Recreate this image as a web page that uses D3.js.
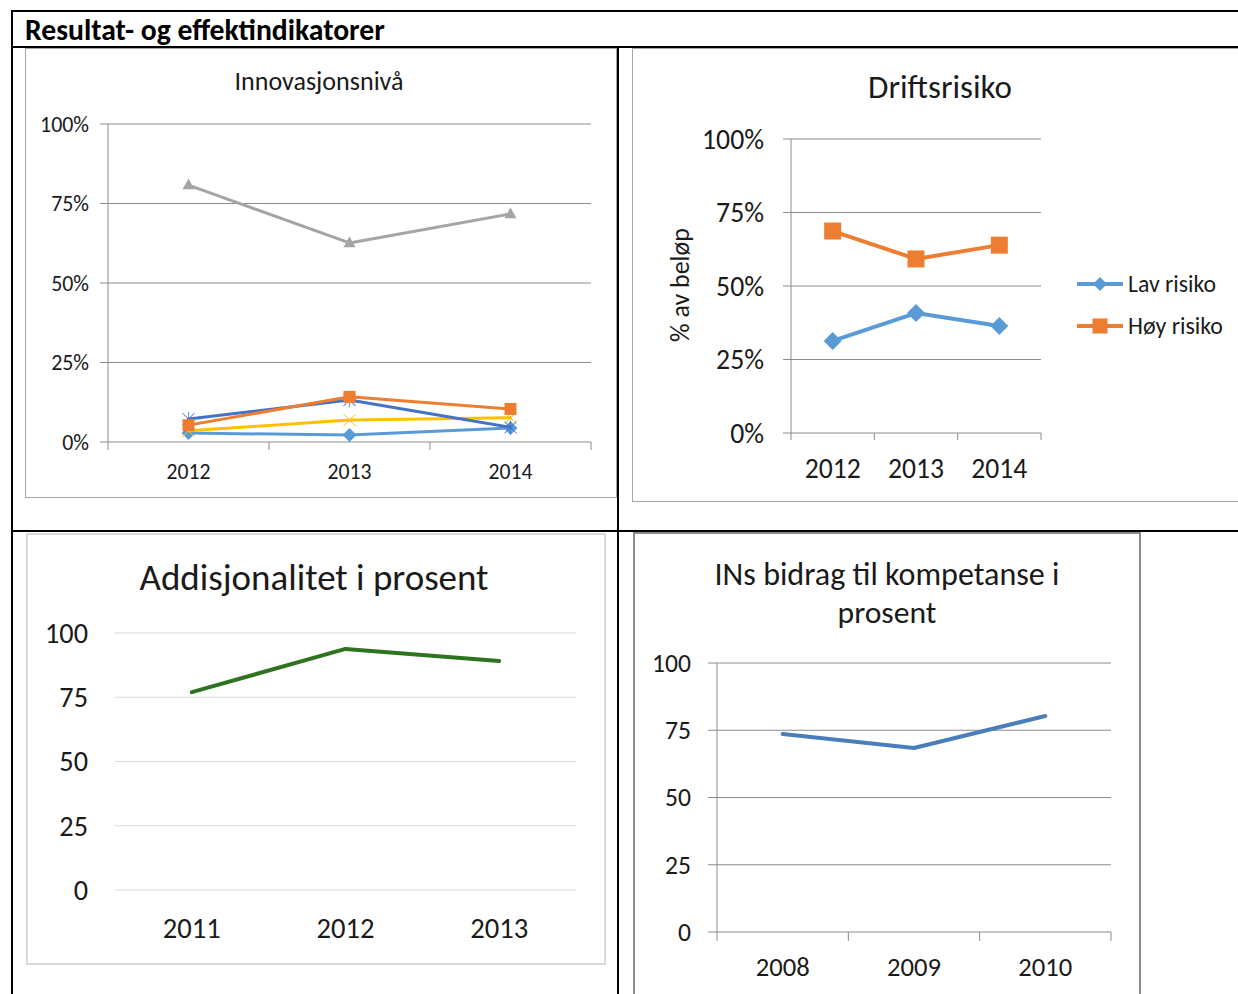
<!DOCTYPE html>
<html><head><meta charset="utf-8">
<script src="https://cdn.jsdelivr.net/npm/d3@7"></script>
<style>
body{margin:0;background:#fff;}
svg text{font-family:Carlito,Lato,"Noto Sans",sans-serif;fill:#1a1a1a;}
</style></head>
<body>
<svg id="c" width="1238" height="994"></svg>
<script>
// ---- Data ----
const innovYears = ["2012","2013","2014"];
const innovGray = [80.8, 62.6, 71.7];
const innovOrange = [5.3, 14.2, 10.4];
const innovDarkBlue = [7.2, 13.2, 4.6];
const innovYellow = [3.5, 6.9, 7.6];
const innovLightBlue = [2.8, 2.2, 4.4];
const pctTicks = [0, 25, 50, 75, 100];

const driftYears = ["2012","2013","2014"];
const lavRisiko = [31.3, 40.8, 36.4];
const hoyRisiko = [68.7, 59.2, 63.9];
const driftLegend = ["Lav risiko","Høy risiko"];

const addYears = ["2011","2012","2013"];
const addValues = [77.0, 93.8, 89.1];

const kompYears = ["2008","2009","2010"];
const kompValues = [73.6, 68.4, 80.3];
const numTicks = [0, 25, 50, 75, 100];

const svg = d3.select("#c");

// text helper: fits font-size so the string spans the target width
function label(g, str, x, y, anchor, width, opts={}){
  const t = g.append("text").attr("x",x).attr("y",y).attr("text-anchor",anchor)
    .attr("font-size",20).attr("dy","0.35em").text(str);
  if(opts.bold) t.attr("font-weight","bold");
  if(opts.rotate!==undefined) t.attr("transform",`rotate(${opts.rotate},${x},${y})`);
  const w = t.node().getComputedTextLength();
  t.attr("font-size", 20*width/w);
  return t;
}
function fitSize(g, str, width){
  const t = g.append("text").attr("font-size",20).text(str);
  const w = t.node().getComputedTextLength(); t.remove();
  return 20*width/w;
}

// ---- Table frame ----
function box(x,y,w,h,color,sw){
  svg.append("rect").attr("x",x).attr("y",y).attr("width",w).attr("height",h)
    .attr("fill","#fff").attr("stroke",color).attr("stroke-width",sw);
}
box(25.5,48.5,591,449,"#a6a6a6",1);
box(632.5,48.5,620,453,"#a6a6a6",1);
box(27,534,578,430,"#d9d9d9",2);
box(634,533,506,480,"#8c8c8c",2);

const frame = svg.append("g").attr("stroke","#000").attr("stroke-width",2);
frame.append("line").attr("x1",12).attr("x2",1238).attr("y1",11).attr("y2",11);
frame.append("line").attr("x1",12).attr("x2",12).attr("y1",10).attr("y2",994);
frame.append("line").attr("x1",12).attr("x2",1238).attr("y1",47).attr("y2",47);
frame.append("line").attr("x1",618).attr("x2",618).attr("y1",47).attr("y2",994);
frame.append("line").attr("x1",12).attr("x2",1238).attr("y1",531).attr("y2",531);
label(svg,"Resultat- og effektindikatorer",25,30,"start",360,{bold:true}).style("fill","#000");

function marker(g, type, x, y, color, s){
  if(type==="square"){
    g.append("rect").attr("x",x-s/2).attr("y",y-s/2).attr("width",s).attr("height",s).attr("fill",color);
  } else if(type==="diamond"){
    g.append("path").attr("d",`M${x},${y-s/2}L${x+s/2},${y}L${x},${y+s/2}L${x-s/2},${y}Z`).attr("fill",color);
  } else if(type==="triangle"){
    g.append("path").attr("d",`M${x},${y-s*0.55}L${x+s/2},${y+s*0.35}L${x-s/2},${y+s*0.35}Z`).attr("fill",color);
  } else if(type==="x"){
    g.append("path").attr("d",`M${x-s/2},${y-s/2}L${x+s/2},${y+s/2}M${x+s/2},${y-s/2}L${x-s/2},${y+s/2}`)
      .attr("stroke",color).attr("stroke-width",1.2).attr("fill","none").attr("opacity",0.7);
  } else if(type==="star"){
    g.append("path").attr("d",`M${x-s/2},${y-s/2}L${x+s/2},${y+s/2}M${x+s/2},${y-s/2}L${x-s/2},${y+s/2}M${x},${y-s*0.6}L${x},${y+s*0.6}`)
      .attr("stroke",color).attr("stroke-width",1.2).attr("fill","none").attr("opacity",0.7);
  }
}

function series(g, xs, ys, cats, vals, color, width, mtype, msize){
  const line = d3.line().x((d,i)=>xs(cats[i])+xs.bandwidth()/2).y(d=>ys(d));
  g.append("path").datum(vals).attr("d",line).attr("fill","none").attr("stroke",color)
    .attr("stroke-width",width).attr("stroke-linejoin","round").attr("stroke-linecap","round");
  if(mtype) vals.forEach((v,i)=>marker(g,mtype,xs(cats[i])+xs.bandwidth()/2,ys(v),color,msize));
}

// generic chart frame
function axes(g, x, y, ticks, fmt, cfg){
  const [x0,x1] = x.range();
  const y0 = y.range()[0];
  ticks.forEach(t=>{
    g.append("line").attr("x1",cfg.gridStart).attr("x2",x1).attr("y1",y(t)).attr("y2",y(t))
      .attr("stroke",cfg.gridColor).attr("stroke-width",1);
  });
  const ys = fitSize(g, fmt(ticks[ticks.length-1]), cfg.yLabelW);
  ticks.forEach(t=>{
    g.append("text").attr("x",cfg.yLabelX).attr("y",y(t)).attr("dy","0.35em").attr("text-anchor","end")
      .attr("font-size",ys).text(fmt(t));
  });
  if(cfg.yAxis){
    g.append("line").attr("x1",x0).attr("x2",x0).attr("y1",y.range()[1]).attr("y2",y0).attr("stroke",cfg.gridColor);
  }
  const xsz = fitSize(g, x.domain()[0], cfg.xLabelW);
  const ax = g.append("g").attr("transform",`translate(0,${y0})`)
    .call(d3.axisBottom(x).tickSize(0).tickPadding(0));
  ax.select(".domain").remove();
  ax.selectAll("text").attr("font-size",xsz).attr("dy","0.35em").attr("y",cfg.xLabelDy)
    .style("font-family",null).style("fill","#1a1a1a");
  if(cfg.tickLen){
    const bounds = x.domain().map(d=>x(d)).concat([x1]);
    bounds.forEach(b=>g.append("line").attr("x1",b).attr("x2",b).attr("y1",y0).attr("y2",y0+cfg.tickLen).attr("stroke",cfg.gridColor));
  }
}

// ---- Chart 1: Innovasjonsnivå ----
{
  const g = svg.append("g");
  const x = d3.scaleBand().domain(innovYears).range([108,591]);
  const y = d3.scaleLinear().domain([0,100]).range([442,124]);
  label(g,"Innovasjonsnivå",319,81,"middle",169);
  axes(g,x,y,pctTicks,d=>d+"%",{gridStart:100,gridColor:"#8c8c8c",yLabelX:89,yLabelW:49,yAxis:true,xLabelW:44,xLabelDy:29,tickLen:8});
  series(g,x,y,innovYears,innovGray,"#a5a5a5",3,"triangle",12);
  series(g,x,y,innovYears,innovLightBlue,"#5b9bd5",3,"diamond",14);
  series(g,x,y,innovYears,innovYellow,"#ffc000",3,"x",12);
  series(g,x,y,innovYears,innovDarkBlue,"#4472c4",3,"star",12);
  series(g,x,y,innovYears,innovOrange,"#ed7d31",3,"square",12);
}

// ---- Chart 2: Driftsrisiko ----
{
  const g = svg.append("g");
  const x = d3.scaleBand().domain(driftYears).range([791,1041]);
  const y = d3.scaleLinear().domain([0,100]).range([433,139]);
  label(g,"Driftsrisiko",940,86,"middle",144);
  axes(g,x,y,pctTicks,d=>d+"%",{gridStart:783,gridColor:"#8c8c8c",yLabelX:764,yLabelW:62,yAxis:true,xLabelW:56,xLabelDy:35,tickLen:7});
  label(g,"% av beløp",680,285,"middle",114,{rotate:-90});
  series(g,x,y,driftYears,lavRisiko,"#5b9bd5",4,"diamond",18);
  series(g,x,y,driftYears,hoyRisiko,"#ed7d31",4,"square",17);
  const colors = ["#5b9bd5","#ed7d31"], types=["diamond","square"], ly=[284,326], lw=[88,95];
  driftLegend.forEach((s,i)=>{
    g.append("line").attr("x1",1077).attr("x2",1123).attr("y1",ly[i]).attr("y2",ly[i]).attr("stroke",colors[i]).attr("stroke-width",4);
    marker(g,types[i],1100,ly[i],colors[i],types[i]==="square"?15:14);
    label(g,s,1128,ly[i],"start",lw[i]);
  });
}

// ---- Chart 3: Addisjonalitet ----
{
  const g = svg.append("g");
  const x = d3.scaleBand().domain(addYears).range([115,576]);
  const y = d3.scaleLinear().domain([0,100]).range([890,633]);
  label(g,"Addisjonalitet i prosent",314,577,"middle",349);
  axes(g,x,y,numTicks,d=>String(d),{gridStart:115,gridColor:"#d9d9d9",yLabelX:88,yLabelW:43,yAxis:false,xLabelW:58,xLabelDy:38,tickLen:0});
  series(g,x,y,addYears,addValues,"#2e7420",4,null,0);
}

// ---- Chart 4: INs bidrag ----
{
  const g = svg.append("g");
  const x = d3.scaleBand().domain(kompYears).range([717,1111]);
  const y = d3.scaleLinear().domain([0,100]).range([932,663]);
  label(g,"INs bidrag til kompetanse i",887,574,"middle",345);
  label(g,"prosent",887,612,"middle",99);
  axes(g,x,y,numTicks,d=>String(d),{gridStart:708,gridColor:"#8c8c8c",yLabelX:691,yLabelW:39,yAxis:true,xLabelW:54,xLabelDy:35,tickLen:9});
  series(g,x,y,kompYears,kompValues,"#4a7ebb",4,null,0);
}
</script>
</body></html>
